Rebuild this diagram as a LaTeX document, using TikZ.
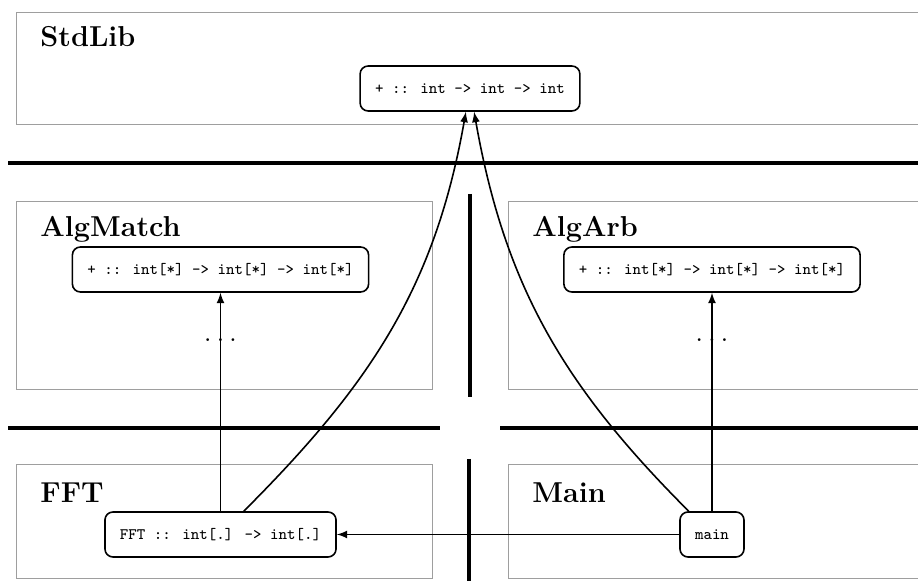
\documentclass[tikz,border=0pt]{standalone}
\usetikzlibrary{arrows,positioning}
\begin{document}
\begin{tikzpicture}[x=0.5pt,y=-0.5pt,
    modbox/.style={draw=black!38, line width=0.5pt},
    modname/.style={anchor=base west, font=\Large\bfseries, inner sep=0pt},
    fun/.style={draw, rounded corners=4pt, line width=0.8pt, fill=white,
        font=\ttfamily\footnotesize, minimum height=22.5pt, inner xsep=7.5pt},
    wall/.style={line width=2pt},
    dep/.style={line width=0.8pt, -latex}]
        \useasboundingbox (0,0) rectangle (918,581);

        % modules
        \draw[modbox] (918,12.5)--(16,12.5)--(16,125)--(918,125);
        \draw[modbox] (16,202) rectangle (432,390);
        \draw[modbox] (918,202)--(508,202)--(508,390)--(918,390);
        \draw[modbox] (16,465) rectangle (432,579);
        \draw[modbox] (918,465)--(508,465)--(508,579)--(918,579);

        \node[modname] (stdlib) at (40,47) {StdLib};
        \node[modname] (algmatch) at (40,237) {AlgMatch};
        \node[modname] (algarb) at (532,237) {AlgArb};
        \node[modname] (fftmod) at (40,503) {FFT};
        \node[modname] (mainmod) at (532,503) {Main};

        % walls
        \draw[wall] (8,163)--(918,163);
        \draw[wall] (470,194)--(470,397);
        \draw[wall] (8,428)--(440,428);   \draw[wall] (500,428)--(918,428);
        \draw[wall] (469,459)--(469,581);

        % functions
        \node[fun] (plus) at (470,88.5) {+ :: int -> int -> int};
        \node[fun] (plusmatch) at (220.5,269.5) {+ :: int[*] -> int[*] -> int[*]};
        \node[fun] (plusarb) at (712,269.5) {+ :: int[*] -> int[*] -> int[*]};
        \node[fun] (fft) at (220.5,534.5) {FFT :: int[.] -> int[.]};
        \node[fun] (main) at (712,534.5) {main};
        \node[font=\Large] (dotsmatch) at (220.5,340) {$\ldots$};
        \node[font=\Large] (dotsarb) at (712,340) {$\ldots$};

        \draw[dep] (fft)--(plusmatch);
        \draw[dep] (main)--(plusarb);
        \draw[dep] (main)--(fft);
        \draw[dep] (fft) to[out=45,in=-100] (plus);
        \draw[dep] (main) to[out=135,in=-80] (plus);
    \end{tikzpicture}
\end{document}
